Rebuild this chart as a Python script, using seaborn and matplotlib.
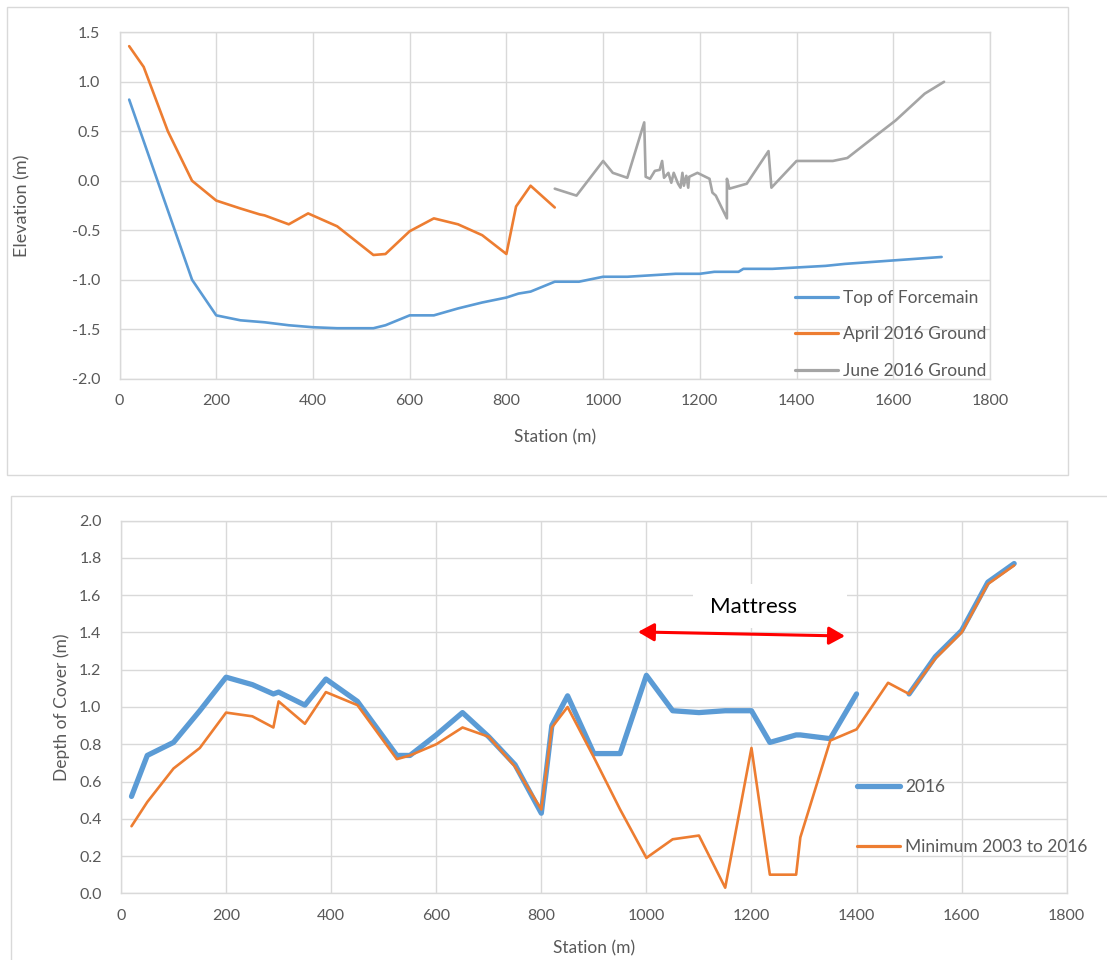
import numpy as np
import pandas as pd
import matplotlib
matplotlib.use("Agg")
import matplotlib.pyplot as plt
from matplotlib.lines import Line2D
from matplotlib.patches import Rectangle
from matplotlib.ticker import FormatStrFormatter, MultipleLocator
import seaborn as sns

# ---- Elevation profile (top panel) ----
forcemain_station = [20, 150, 200, 250, 300, 350, 400, 450, 525, 550, 600, 650, 700, 750,
                     800, 825, 850, 900, 950, 1000, 1050, 1150, 1200, 1230, 1280, 1290,
                     1350, 1460, 1500, 1700]
forcemain_elev = [0.82, -1.00, -1.36, -1.41, -1.43, -1.46, -1.48, -1.49, -1.49, -1.46, -1.36,
                  -1.36, -1.29, -1.23, -1.18, -1.14, -1.12, -1.02, -1.02, -0.97, -0.97, -0.94,
                  -0.94, -0.92, -0.92, -0.89, -0.89, -0.86, -0.84, -0.77]

april_station = [20, 50, 100, 150, 200, 250, 290, 300, 350, 390, 450, 525, 550, 600, 650,
                 700, 750, 800, 820, 850, 900]
april_elev = [1.36, 1.15, 0.50, 0.00, -0.20, -0.28, -0.34, -0.35, -0.44, -0.33, -0.46, -0.75,
              -0.74, -0.51, -0.38, -0.44, -0.55, -0.74, -0.26, -0.05, -0.27]

june_station = [900, 945, 1000, 1020, 1050, 1085, 1088, 1097, 1107, 1117, 1122, 1126, 1135,
                1141, 1146, 1155, 1160, 1164, 1167, 1172, 1176, 1178, 1195, 1220, 1226, 1233,
                1256, 1256, 1261, 1297, 1342, 1348, 1400, 1475, 1505, 1560, 1605, 1665, 1705]
june_elev = [-0.08, -0.15, 0.20, 0.08, 0.03, 0.59, 0.04, 0.02, 0.10, 0.11, 0.20, 0.03, 0.08,
             -0.02, 0.08, -0.03, -0.07, 0.08, -0.05, 0.05, -0.07, 0.04, 0.08, 0.02, -0.12,
             -0.15, -0.38, 0.02, -0.08, -0.03, 0.30, -0.07, 0.20, 0.20, 0.23, 0.44, 0.61,
             0.88, 1.00]

top_labels = ["Top of Forcemain", "April 2016 Ground", "June 2016 Ground"]

# ---- Depth of cover (bottom panel) ----
cover_station = [20, 50, 100, 150, 200, 250, 290, 300, 350, 390, 450, 525, 550, 600, 650,
                 700, 750, 800, 820, 850, 900, 950, 1000, 1050, 1100, 1150, 1200, 1235,
                 1285, 1293, 1350, 1400, 1460, 1500, 1550, 1600, 1650, 1700]
cover_2016 = [0.52, 0.74, 0.81, 0.98, 1.16, 1.12, 1.07, 1.08, 1.01, 1.15, 1.03, 0.74, 0.74,
              0.85, 0.97, 0.84, 0.69, 0.43, 0.90, 1.06, 0.75, 0.75, 1.17, 0.98, 0.97, 0.98,
              0.98, 0.81, 0.85, 0.85, 0.83, 1.07, np.nan, 1.07, 1.27, 1.41, 1.67, 1.77]
cover_min = [0.36, 0.49, 0.67, 0.78, 0.97, 0.95, 0.89, 1.03, 0.91, 1.08, 1.01, 0.72, 0.74,
             0.80, 0.89, 0.84, 0.68, 0.45, 0.89, 1.00, 0.73, 0.45, 0.19, 0.29, 0.31, 0.03,
             0.78, 0.10, 0.10, 0.30, 0.82, 0.88, 1.13, 1.07, 1.26, 1.40, 1.66, 1.76]

bottom_labels = ["2016", "Minimum 2003 to 2016"]
mattress_label = "Mattress"

BLUE, ORANGE, GRAY = "#5B9BD5", "#ED7D31", "#A5A5A5"
GRID = "#D9D9D9"
TEXT = "#595959"

sns.set_style("whitegrid", {"grid.color": GRID, "axes.edgecolor": GRID})
plt.rcParams["font.family"] = ["Lato", "DejaVu Sans"]
plt.rcParams["axes.unicode_minus"] = False

W, H = 1107, 960
fig = plt.figure(figsize=(W / 100, H / 100), dpi=100)


def fx(px):
    return px / W


def fy(py):
    return 1 - py / H


# chart-area borders
fig.add_artist(Rectangle((fx(7), fy(475)), fx(1068 - 7), (475 - 7) / H,
                         transform=fig.transFigure, fill=False, ec=GRID, lw=1.0))
fig.add_artist(Rectangle((fx(10.5), -0.02), 1.1, fy(496) + 0.02,
                         transform=fig.transFigure, fill=False, ec=GRID, lw=1.0))

ax1 = fig.add_axes([fx(119.5), fy(378.7), fx(990 - 119.5), (378.7 - 32.3) / H])
ax2 = fig.add_axes([fx(121), fy(893.3), fx(1066.7 - 121), (893.3 - 520.7) / H])

# top panel lines
top_df = pd.concat([
    pd.DataFrame({"station": forcemain_station, "elev": forcemain_elev, "series": top_labels[0]}),
    pd.DataFrame({"station": april_station, "elev": april_elev, "series": top_labels[1]}),
    pd.DataFrame({"station": june_station, "elev": june_elev, "series": top_labels[2]}),
], ignore_index=True)
top_colors = [BLUE, ORANGE, GRAY]
for lab, col in zip(top_labels, top_colors):
    sns.lineplot(data=top_df[top_df["series"] == lab], x="station", y="elev",
                 estimator=None, sort=False, color=col, lw=1.9, ax=ax1, legend=False)

# bottom panel lines (2016 survey has a gap, drawn as separate segments)
cov = pd.DataFrame({"station": cover_station, "y2016": cover_2016, "ymin": cover_min})
cov["segment"] = cov["y2016"].isna().cumsum()
sns.lineplot(data=cov, x="station", y="ymin", estimator=None, sort=False,
             color=ORANGE, lw=1.9, ax=ax2, legend=False, zorder=3)
sns.lineplot(data=cov.dropna(subset=["y2016"]), x="station", y="y2016", units="segment",
             estimator=None, sort=False, color=BLUE, lw=3.8, ax=ax2, legend=False, zorder=2)

for ax in (ax1, ax2):
    ax.set_xlim(0, 1800)
    ax.xaxis.set_major_locator(MultipleLocator(200))
    ax.yaxis.set_major_formatter(FormatStrFormatter("%.1f"))
    ax.tick_params(length=0, labelsize=11.5, labelcolor=TEXT)
    ax.tick_params(axis="x", pad=11)
    ax.tick_params(axis="y", pad=14)
    ax.grid(True, color=GRID, lw=1.0)
    for sp in ax.spines.values():
        sp.set_visible(True)
        sp.set_color(GRID)
        sp.set_linewidth(1.0)
    ax.set_xlabel("Station (m)", fontsize=12.5, color=TEXT)

ax1.set_ylim(-2.0, 1.5)
ax1.yaxis.set_major_locator(MultipleLocator(0.5))
ax2.set_ylim(0, 2.0)
ax2.yaxis.set_major_locator(MultipleLocator(0.2))

ax1.set_ylabel("Elevation (m)", fontsize=13, color=TEXT)
ax2.set_ylabel("Depth of Cover (m)", fontsize=12.5, color=TEXT)

ax1.xaxis.label.set_va("center")
ax1.xaxis.set_label_coords(0.5, -0.168)
ax2.xaxis.label.set_va("center")
ax2.xaxis.set_label_coords(0.5, -0.147)
ax1.yaxis.label.set_va("center")
ax1.yaxis.set_label_coords(-0.112, 0.5)
ax2.yaxis.label.set_va("center")
ax2.yaxis.set_label_coords(-0.0624, 0.5)

# legends
h_top = [Line2D([], [], color=c, lw=2.3) for c in top_colors]
fig.legend(h_top, top_labels, loc="upper left", bbox_to_anchor=(fx(795), fy(290)),
           bbox_transform=fig.transFigure, frameon=False, fontsize=12.5,
           handlelength=2.5, handletextpad=0.25, labelspacing=1.17,
           borderpad=0, borderaxespad=0, labelcolor=TEXT)
h_bot = [Line2D([], [], color=BLUE, lw=3.8, solid_capstyle="round"),
         Line2D([], [], color=ORANGE, lw=2.3)]
fig.legend(h_bot, bottom_labels, loc="upper left", bbox_to_anchor=(fx(857), fy(779)),
           bbox_transform=fig.transFigure, frameon=False, fontsize=12.5,
           handlelength=2.5, handletextpad=0.25, labelspacing=2.56,
           borderpad=0, borderaxespad=0, labelcolor=TEXT)

# mattress extent annotation
ax2.add_patch(Rectangle((1089, 1.424), 293, 0.236, facecolor="white", edgecolor="none", zorder=2.5))
ax2.text(1203, 1.537, mattress_label, fontsize=16, color="black", ha="center", va="center", zorder=4)
ax2.annotate("", xy=(984, 1.403), xytext=(1378, 1.381),
             arrowprops=dict(arrowstyle="<|-|>,head_length=0.8,head_width=0.45",
                             color="#FF0000", lw=2.2, mutation_scale=12,
                             shrinkA=0, shrinkB=0), zorder=4)

fig.savefig("out.png", dpi=100)
